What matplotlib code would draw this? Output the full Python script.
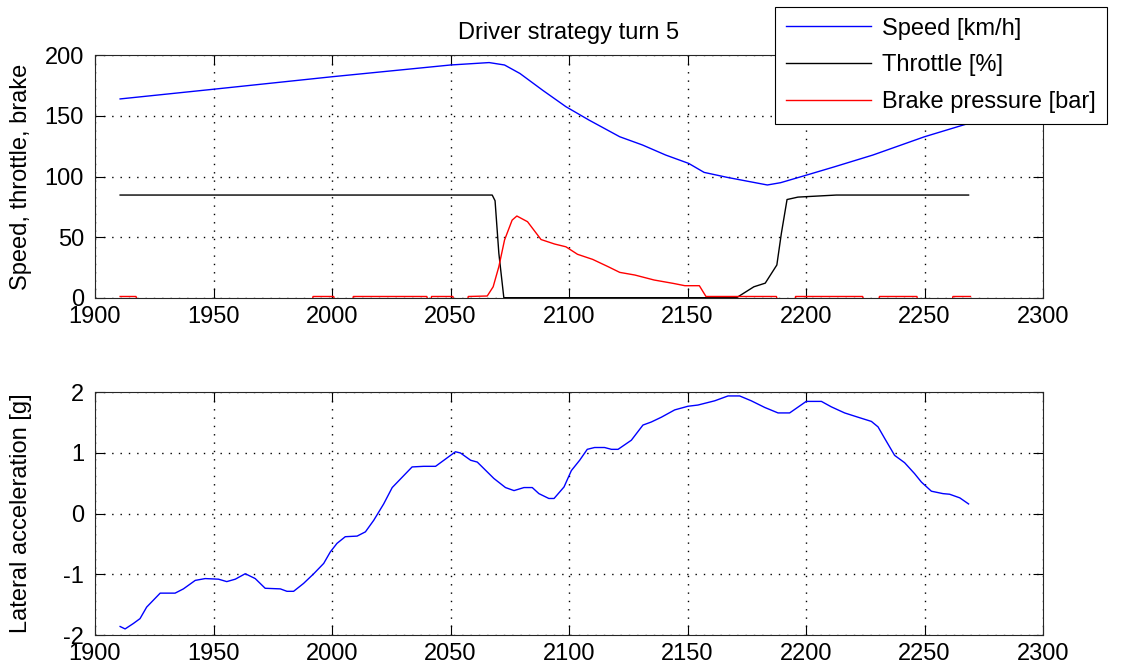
import matplotlib
import matplotlib.pyplot as plt

matplotlib.use('agg')

# distance [m] and channel values
speed_x = [1910.6, 1950, 2000, 2050, 2066.3, 2072.8, 2079.3, 2089, 2098.7, 2108.4,
           2121.4, 2131, 2140.8, 2150.5, 2157, 2166.7, 2176.4, 2183.7, 2189.3, 2200.3,
           2212, 2228.2, 2250, 2268.6]
speed_y = [164, 172, 182.3, 192, 194, 192, 185, 171, 157.6, 146.6,
           132.8, 126, 117.7, 110.8, 103.4, 99.3, 95.7, 93, 94.9, 101.2,
           108, 117.7, 132.8, 143.8]

throttle_x = [1910.6, 2067.6, 2068.8, 2070.4, 2072.5, 2170.7, 2178, 2182.8, 2187.7,
              2189.6, 2192, 2196.6, 2212.8, 2268.6]
throttle_y = [84.7, 84.7, 80, 36.6, 0, 0, 9, 12, 27,
              53, 81, 83, 84.7, 84.7]

brake_x = [1910.6, 1917.3, 1917.6, 1991.8, 1992, 2000.7, 2001, 2008.8, 2009, 2040,
           2040.3, 2041.8, 2042, 2051, 2051.3, 2057.3, 2057.5, 2065.5, 2068, 2070.4,
           2072.8, 2076, 2078, 2082.5, 2088.2, 2093.9, 2098.7, 2103.6, 2110, 2116.5,
           2121.4, 2127.8, 2135.9, 2144, 2148.9, 2155, 2157.8, 2187.5, 2187.8, 2195.4,
           2195.6, 2223.9, 2224.2, 2230.8, 2231, 2246.8, 2247, 2261.8, 2262, 2269.4]
brake_y = [1, 1, -1, -1, 1, 1, -1, -1, 1, 1,
           -1, -1, 1, 1, -1, -1, 1, 1.4, 9, 25.6,
           47.6, 64, 67.4, 62.7, 48, 44.3, 42, 35.8, 31.6, 25.6,
           20.9, 18.7, 14.6, 11.8, 9.9, 9.9, 1, 1, -1, -1,
           1, 1, -1, -1, 1, 1, -1, -1, 1, 1]

lat_x = [1910.6, 1912.7, 1916.2, 1919, 1921.8, 1927.5, 1933.8, 1937.3, 1942.3, 1946.5,
         1952.1, 1955.6, 1959.2, 1963.4, 1967.6, 1971.8, 1978.2, 1981, 1983.8, 1988,
         1992.3, 1996.5, 1999.3, 2002.1, 2005.6, 2010.6, 2014.1, 2017.6, 2021.8, 2025.4,
         2029.6, 2033.8, 2038.7, 2043.7, 2047.2, 2052.1, 2054.2, 2058.5, 2061.3, 2068.3,
         2073.2, 2076.8, 2081, 2084.5, 2087.3, 2091.5, 2093.7, 2097.9, 2101, 2104.5,
         2107.7, 2110.8, 2115, 2117.9, 2120.7, 2126.3, 2131.2, 2134.7, 2139, 2144.6,
         2150.2, 2154.4, 2161.5, 2167.1, 2172, 2176.9, 2182.6, 2188.2, 2193.1, 2200.1,
         2206.5, 2210.7, 2216.3, 2221.9, 2227.6, 2230.4, 2233.2, 2237.4, 2241.6, 2245.8,
         2248.7, 2252.9, 2257.8, 2260.6, 2264.9, 2268.6]
lat_y = [-1.86, -1.9, -1.81, -1.73, -1.54, -1.31, -1.31, -1.24, -1.10, -1.07,
         -1.08, -1.12, -1.08, -0.99, -1.07, -1.23, -1.24, -1.28, -1.28, -1.15,
         -0.99, -0.82, -0.63, -0.49, -0.38, -0.37, -0.30, -0.11, 0.16, 0.43,
         0.60, 0.77, 0.78, 0.78, 0.88, 1.02, 1.0, 0.88, 0.85, 0.58,
         0.43, 0.38, 0.43, 0.43, 0.33, 0.25, 0.25, 0.44, 0.71, 0.88,
         1.06, 1.09, 1.09, 1.06, 1.06, 1.21, 1.46, 1.51, 1.59, 1.71,
         1.77, 1.79, 1.86, 1.94, 1.94, 1.86, 1.75, 1.66, 1.66, 1.85,
         1.85, 1.76, 1.66, 1.59, 1.52, 1.43, 1.24, 0.96, 0.84, 0.66,
         0.52, 0.37, 0.33, 0.32, 0.26, 0.16]

x_ticks = [1900, 1950, 2000, 2050, 2100, 2150, 2200, 2250, 2300]

plt.rcParams['font.family'] = ['Liberation Sans', 'DejaVu Sans']
plt.rcParams['axes.unicode_minus'] = False
fs = 17

fig = plt.figure(figsize=(11.25, 6.68), dpi=100)
ax1 = fig.add_axes([95 / 1125, 1 - 297.7 / 668, 948 / 1125, 242.4 / 668])
ax2 = fig.add_axes([95 / 1125, 1 - 635 / 668, 948 / 1125, 242.7 / 668])

ax1.plot(speed_x, speed_y, color='#0000ff', lw=1.0, label='Speed [km/h]')
ax1.plot(throttle_x, throttle_y, color='black', lw=1.0, label='Throttle [%]')
ax1.plot(brake_x, brake_y, color='#ff0000', lw=1.0, label='Brake pressure [bar]')
ax1.set_ylim(0, 200)
ax1.set_yticks([0, 50, 100, 150, 200])
ax1.set_ylabel('Speed, throttle, brake', fontsize=fs)
ax1.set_title('Driver strategy turn 5', fontsize=fs, pad=12)

ax2.plot(lat_x, lat_y, color='#0000ff', lw=1.0)
ax2.set_ylim(-2, 2)
ax2.set_yticks([-2, -1, 0, 1, 2])
ax2.set_ylabel('Lateral acceleration [g]', fontsize=fs)

for ax in (ax1, ax2):
    ax.set_xlim(1900, 2300)
    ax.set_xticks(x_ticks)
    ax.grid(True, color='black', linestyle=(0, (1, 5)), linewidth=1.0)
    ax.tick_params(direction='in', length=7, width=0.8, labelsize=fs, pad=6,
                   top=True, right=True)
    ax.tick_params(axis='y', pad=8)
    for sp in ax.spines.values():
        sp.set_color('#262626')
        sp.set_linewidth(0.8)
    ax.yaxis.set_label_coords(-0.066, 0.5)

leg = ax1.legend(loc='upper left', bbox_to_anchor=(775 / 1125, 1 - 7 / 668),
                 bbox_transform=fig.transFigure, borderaxespad=0, fontsize=fs,
                 fancybox=False, framealpha=1, edgecolor='black',
                 handlelength=3.6, labelspacing=0.62, borderpad=0.45, handletextpad=0.5)
leg.get_frame().set_linewidth(0.8)

plt.savefig('out.png', dpi=100)
